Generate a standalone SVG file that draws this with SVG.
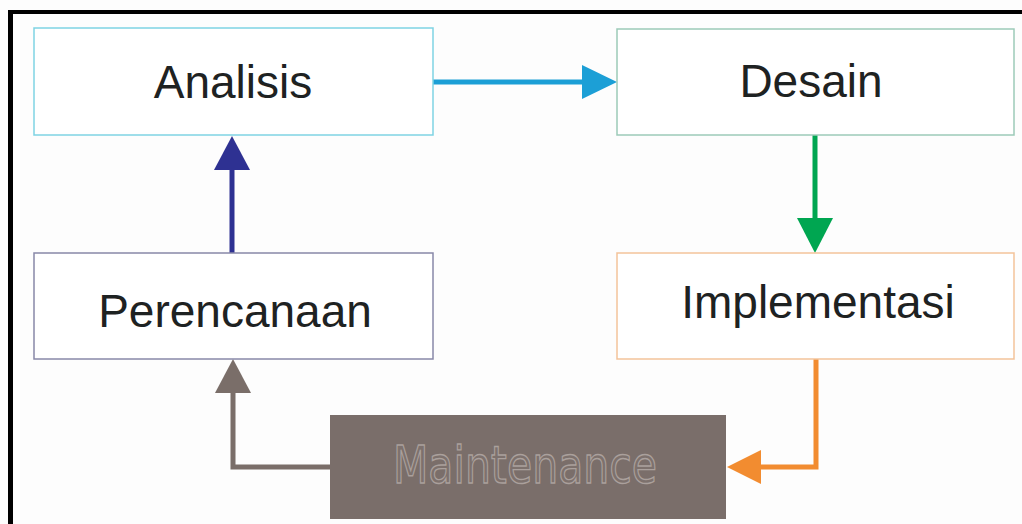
<svg xmlns="http://www.w3.org/2000/svg" width="1022" height="524" viewBox="0 0 1022 524">
<style>
.box{fill:#ffffff;stroke-width:1.5}
.lbl{font-family:"Liberation Sans",Arial,sans-serif;font-size:46px;fill:#1e2222;text-anchor:middle}
.conn{fill:none;stroke-width:5;stroke-linejoin:miter}
</style>
<rect x="0" y="0" width="1022" height="524" fill="#fdfdfd"/>
<g id="frame">
<rect x="8" y="10" width="1014" height="4" fill="#000"/>
<rect x="8" y="10" width="5" height="514" fill="#000"/>
</g>
<g id="connectors">
<line class="conn" x1="433" y1="82" x2="585" y2="82" stroke="#1c9fd6"/>
<polygon points="582,65 617,82 582,99" fill="#1c9fd6"/>
<line class="conn" x1="815" y1="135" x2="815" y2="220" stroke="#00a651"/>
<polygon points="797,218 833,218 815,253" fill="#00a651"/>
<polyline class="conn" points="816,359 816,467 758,467" stroke="#f28c30"/>
<polygon points="761,450 761,484 727,467" fill="#f28c30"/>
<polyline class="conn" points="330,467 233,467 233,391" stroke="#7a6e69"/>
<polygon points="215,393 251,393 233,359" fill="#7a6e69"/>
<line class="conn" x1="232" y1="253" x2="232" y2="167" stroke="#2e3192"/>
<polygon points="214,170 250,170 232,136" fill="#2e3192"/>
</g>
<g id="analisis">
<rect class="box" x="34" y="28" width="399" height="107" stroke="#7fd3e3"/>
<text class="lbl" x="233" y="98">Analisis</text>
</g>
<g id="desain">
<rect class="box" x="617" y="29" width="397" height="106" stroke="#9ccab8"/>
<text class="lbl" x="811" y="97">Desain</text>
</g>
<g id="perencanaan">
<rect class="box" x="34" y="253" width="399" height="106" stroke="#8888a8"/>
<text class="lbl" x="235" y="327">Perencanaan</text>
</g>
<g id="implementasi">
<rect class="box" x="617" y="253" width="397" height="106" stroke="#f3c39a"/>
<text class="lbl" x="818" y="318">Implementasi</text>
</g>
<g id="maintenance">
<rect x="330" y="415" width="396" height="104" fill="#7a6e6a"/>
<text transform="translate(525,483) scale(1,1.25)" x="0" y="0" font-family="'DejaVu Sans',sans-serif" font-size="41" text-anchor="middle" textLength="264" lengthAdjust="spacingAndGlyphs" fill="#7d716d" stroke="#aaa09c" stroke-width="1.1">Maintenance</text>
</g>
</svg>
